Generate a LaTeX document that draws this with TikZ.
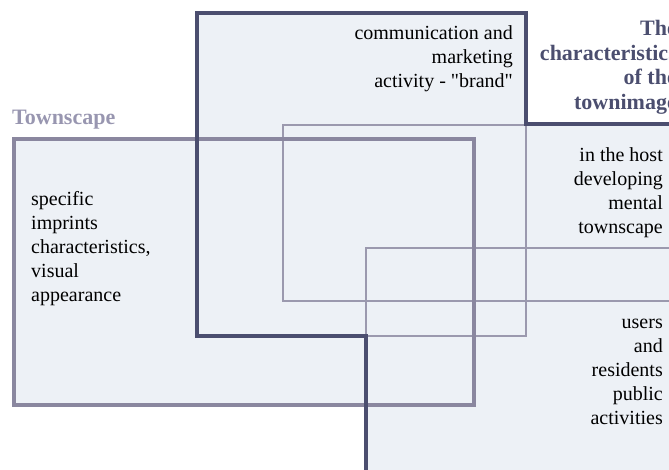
\documentclass[tikz,border=0pt]{standalone}
\usepackage{fontspec}
\setmainfont{Liberation Serif}
\definecolor{paleblue}{HTML}{EDF1F6}
\definecolor{darkline}{HTML}{4B4E6F}
\definecolor{greyline}{HTML}{8A879F}
\definecolor{thinline}{HTML}{9B99AE}
\definecolor{titlegrey}{HTML}{9896B0}

\begin{document}
\begin{tikzpicture}[x = 1pt, y = -1pt,
	label text/.style = {inner sep = 0pt, font = \fontsize{20}{24}\selectfont},
	title text/.style = {inner sep = 0pt, font = \fontsize{22}{24.5}\selectfont\bfseries}]
	\clip (0,0) rectangle (669,469);
	% filled areas
	\fill[paleblue] (197,13) -- (526,13) -- (526,124) -- (680,124) -- (680,480) -- (366,480) -- (366,336) -- (197,336) -- cycle;
	\fill[paleblue] (14,139) rectangle (474,405);
	% thin frames
	\draw[thinline, line width = 1.5pt] (680,301) -- (283,301) -- (283,125) -- (526,125) -- (526,336) -- (366,336) -- (366,248) -- (680,248);
	% townscape frame
	\draw[greyline, line width = 4pt] (14,139) rectangle (474,405);
	% townimage frame
	\draw[darkline, line width = 4pt] (366,480) -- (366,336) -- (197,336) -- (197,13) -- (526,13) -- (526,124) -- (680,124);
	% texts
	\node[title text, text = titlegrey, anchor = base west] (townscape) at (12,124) {Townscape};
	\node[title text, text = darkline, align = right, anchor = north east] (townimage) at (677,20.5) {The\\ characteristics\\ of the\\ townimage};
	\node[label text, align = right, anchor = north east] (brand) at (513,25.2) {communication and\\ marketing\\ activity - \textquotedbl brand\textquotedbl};
	\node[label text, align = left, anchor = north west] (imprints) at (31,191.5) {specific\\ imprints\\ characteristics,\\ visual\\ appearance};
	\node[label text, align = right, anchor = north east] (host) at (663,147.7) {in the host\\ developing\\ mental\\ townscape};
	\node[label text, align = right, anchor = north east] (users) at (663,319) {users\\ and\\ residents\\ public\\ activities};
\end{tikzpicture}
\end{document}
